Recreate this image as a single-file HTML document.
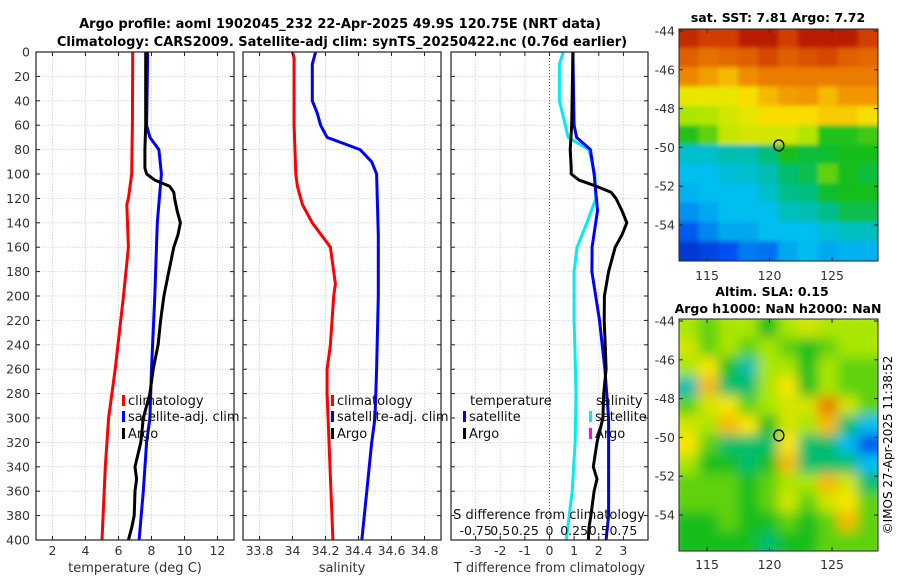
<!DOCTYPE html>
<html><head><meta charset="utf-8"><style>
body{margin:0;background:#fff}
svg{display:block;font-family:"DejaVu Sans","Liberation Sans",sans-serif}
</style></head><body>
<svg id="fig" width="900" height="580" viewBox="0 0 900 580" xmlns="http://www.w3.org/2000/svg">
<defs>
<clipPath id="c1"><rect x="679" y="29" width="199" height="232"/></clipPath>
<clipPath id="c2"><rect x="679" y="319" width="199" height="232"/></clipPath>
<filter id="b1" x="-5%" y="-5%" width="110%" height="110%"><feGaussianBlur stdDeviation="2"/></filter>
<filter id="b2" x="-10%" y="-10%" width="120%" height="120%"><feGaussianBlur stdDeviation="6"/></filter>
</defs>
<text x="340" y="28" text-anchor="middle" font-size="13" font-weight="bold">Argo profile: aoml 1902045_232 22-Apr-2025 49.9S 120.75E (NRT data)</text>
<text x="342" y="46" text-anchor="middle" font-size="13" font-weight="bold">Climatology: CARS2009. Satellite-adj clim: synTS_20250422.nc (0.76d earlier)</text>
<text x="778" y="22" text-anchor="middle" font-size="12.5" font-weight="bold">sat. SST: 7.81 Argo: 7.72</text>
<text x="772" y="296" text-anchor="middle" font-size="12.5" font-weight="bold">Altim. SLA: 0.15</text>
<text x="778" y="313" text-anchor="middle" font-size="12.5" font-weight="bold">Argo h1000: NaN h2000: NaN</text>
<text transform="translate(892,445) rotate(-90)" text-anchor="middle" font-size="12">©IMOS 27-Apr-2025 11:38:52</text>
<g id="g"></g>
</svg>
<script>
// ---- data ----
const tDepth   = [0,60,70,80,100,120,125,160,200,260,300,340,400];
const tClim    = [6.86,6.84,6.83,6.82,6.8,6.6,6.5,6.6,6.3,5.8,5.4,5.2,5.0];
const satDepth = [0,60,70,80,100,140,200,260,300,320,360,400];
const tSat     = [7.77,7.7,7.9,8.45,8.6,8.35,8.2,8.0,7.9,7.7,7.5,7.25];
const argoDepth= [0,60,80,95,100,105,110,115,120,130,140,150,160,180,200,220,240,260,280,300,320,340,350,360,380,390,400];
const tArgo    = [7.65,7.65,7.6,7.6,7.7,8.2,9.1,9.35,9.4,9.55,9.75,9.6,9.35,9.05,8.75,8.55,8.4,8.1,7.9,7.5,7.35,7.0,7.1,7.0,6.95,6.8,6.6];
const sClimDepth=[0,5,60,100,110,125,140,160,190,200,240,260,280,400];
const sClim    = [34.0,34.01,34.01,34.02,34.03,34.06,34.12,34.23,34.26,34.25,34.23,34.21,34.21,34.245];
const sSatDepth= [0,10,40,50,60,70,80,90,100,150,200,260,300,320,360,400];
const sSat     = [34.14,34.12,34.12,34.15,34.17,34.21,34.41,34.48,34.51,34.52,34.52,34.51,34.5,34.48,34.45,34.42];
const dDepthSat= [0,60,70,80,100,130,160,180,220,260,300,380,400];
const dTSat    = [0.95,1.0,1.1,1.66,1.81,1.95,1.73,1.72,2.03,2.25,2.4,2.4,2.3];
const dTArgo   = [0.95,0.9,0.84,0.88,0.88,1.2,1.9,2.5,2.7,2.94,3.14,2.94,2.67,2.4,2.23,2.22,2.26,2.3,2.2,2.17,1.93,1.78,1.93,1.81,1.68,1.6,1.58];
const dSDepth  = [0,10,40,60,70,80,100,120,140,160,180,220,280,320,360,400];
const dSSat    = [0.14,0.1,0.1,0.16,0.19,0.4,0.46,0.47,0.38,0.28,0.25,0.25,0.27,0.26,0.23,0.17];
const depthTicks=[0,20,40,60,80,100,120,140,160,180,200,220,240,260,280,300,320,340,360,380,400];
const tTicks=[2,4,6,8,10,12];
const sTicks=[33.8,34,34.2,34.4,34.6,34.8];
const dTTicks=[-3,-2,-1,0,1,2,3];
const dSTicks=[-0.75,-0.5,-0.25,0,0.25,0.5,0.75];
const dSTickLabels=["-0.75","0.5","0.25","0","0.25","0.5","0.75"];
const lonTicks=[115,120,125];
const latTicks=[-44,-46,-48,-50,-52,-54];
const sstGrid=[
[9.3,9,9,9.5,9.5,9,9.5,9.5,9.5,9],
[8.3,8,8.2,8.3,8.8,8.3,8.6,8.8,8.3,8.2],
[7.6,7.3,7,7.5,7.8,7.8,7.8,7.8,7.8,7.8],
[6.3,6.3,6.3,6.6,7,7.3,7.4,7,7.4,7.4],
[5.5,5.6,6,6.2,6.6,6.6,6.6,6.8,6.8,6.6],
[4.6,5,5.8,6,6,6,5.6,4.6,4.6,4.8],
[3.3,3.3,3.5,3.5,3.9,4.5,4.3,4.4,4.5,4.5],
[3,3,3.2,3.3,3.5,4,4.2,5,4.5,4.3],
[2.9,3,3,3,3.3,3.8,3.9,4.4,4.5,4.5],
[2.6,2.8,3,3,3,3.4,3.5,3.8,4.2,4.2],
[2.1,2.5,2.8,2.8,3,3,3,3.2,3.4,3.4],
[1.4,1.7,2,2.4,2.3,2.8,3,2.8,2.9,2.9]];
const slaGrid=[
[5.5,5,5.5,5.5,4.5,5.5,6,5.5,5.5,5.5],
[6,5,5.5,5,5.5,5,4.5,5,5.5,5.5],
[5.5,6.5,4.5,3.5,5.5,5.5,4.5,5.5,5,5],
[3.5,7,4,4,5.5,6.5,4.5,5.5,5,5],
[5,6,6.5,5,5.5,6,6,7.8,6,5],
[6,5.5,7,6.5,4.5,6,5.5,7,4,3],
[6.5,5,4,4,4,6.5,4,4,3,2],
[5.5,4.5,4.5,4,4.5,7,4,4,4,3],
[5,5,5,4.5,5,5.5,5.5,7,6,4],
[5,5,5,4.5,5,6,5,6,6.5,5],
[4.5,4.5,5,4.5,4.5,5,4.5,5,7,5],
[4.5,4.5,4.5,4.5,4,4.5,4.5,5,5,5]];
const argoLon=120.75, argoLat=-49.9;

// ---- drawing ----
const NS="http://www.w3.org/2000/svg";
const G=document.getElementById('g');
function el(tag,attrs,parent){const e=document.createElementNS(NS,tag);for(const k in attrs)e.setAttribute(k,attrs[k]);(parent||G).appendChild(e);return e;}
const Y0=52,Y1=540;
const yD=d=>Y0+d/400*(Y1-Y0);

function panel(name,x0,x1,xmin,xmax){
  const sx=v=>x0+(v-xmin)/(xmax-xmin)*(x1-x0);
  const g=el('g',{});
  
  
  return {x0,x1,sx,g};
}
function grid(p,xt,showY){
  xt.forEach(v=>{const l=el('line',{x1:p.sx(v),x2:p.sx(v),y1:Y0,y2:Y1,stroke:'#c8cfe6','stroke-width':0.8,'stroke-dasharray':'1.5 1.5'},p.g);
    });
  depthTicks.forEach(d=>{const l=el('line',{x1:p.x0,x2:p.x1,y1:yD(d),y2:yD(d),stroke:'#c8cfe6','stroke-width':0.8,'stroke-dasharray':'1.5 1.5'},p.g);
    
    el('line',{x1:p.x0,x2:p.x0+4,y1:yD(d),y2:yD(d),stroke:'#222'},p.g);
    el('line',{x1:p.x1-4,x2:p.x1,y1:yD(d),y2:yD(d),stroke:'#222'},p.g);
    if(showY){const t=el('text',{x:p.x0-6,y:yD(d)+4.5,'text-anchor':'end','font-size':12.5,fill:'#333'},p.g);t.textContent=d;
      }
  });
}
function frame(p,xt,lbl){
  xt.forEach((v,i)=>{el('line',{x1:p.sx(v),x2:p.sx(v),y1:Y1,y2:Y1-4,stroke:'#222'},p.g);el('line',{x1:p.sx(v),x2:p.sx(v),y1:Y0,y2:Y0+4,stroke:'#222'},p.g);
    const t=el('text',{x:p.sx(v),y:555,'text-anchor':'middle','font-size':12.5,fill:'#333'},p.g);t.textContent=v;
    });
  const r=el('rect',{x:p.x0,y:Y0,width:p.x1-p.x0,height:Y1-Y0,fill:'none',stroke:'#222','stroke-width':1.2},p.g);
  
  const t=el('text',{x:(p.x0+p.x1)/2,y:572,'text-anchor':'middle','font-size':13,fill:'#333'},p.g);t.textContent=lbl;
  
}
function line(p,xs,ds,col,name,sx){
  const f=sx||p.sx;
  const pts=xs.map((v,i)=>f(v).toFixed(1)+','+yD(ds[i]).toFixed(1)).join(' ');
  const l=el('polyline',{points:pts,fill:'none',stroke:col,'stroke-width':3,'stroke-linejoin':'round'},p.g);
  
}
function legendEntry(p,x,y,col,txt,name){
  const g=el('g',{},p.g);
  
  if(col)el('rect',{x:x,y:y-10,width:3,height:11,fill:col},g);
  const t=el('text',{x:x+6,y:y,'font-size':13,fill:'#111'},g);t.textContent=txt;
}

// Panel 1 temperature
const p1=panel('temperature-panel',36,234,1,13);
grid(p1,tTicks,true);
line(p1,tClim,tDepth,'#f00','climatology-temp-line');
line(p1,tSat,satDepth,'#00f','satellite-temp-line');
line(p1,tArgo,argoDepth,'#000','argo-temp-line');
frame(p1,tTicks,'temperature (deg C)');
legendEntry(p1,122,405,'#f00','climatology','legend-climatology');
legendEntry(p1,122,421,'#00f','satellite-adj. clim','legend-satellite');
legendEntry(p1,122,438,'#000','Argo','legend-argo');

// Panel 2 salinity
const p2=panel('salinity-panel',243,441,33.7,34.9);
grid(p2,sTicks,false);
line(p2,sClim,sClimDepth,'#f00','climatology-salinity-line');
line(p2,sSat,sSatDepth,'#00f','satellite-salinity-line');
frame(p2,sTicks,'salinity');
legendEntry(p2,331,405,'#f00','climatology','legend-climatology-s');
legendEntry(p2,331,421,'#00f','satellite-adj. clim','legend-satellite-s');
legendEntry(p2,331,438,'#000','Argo','legend-argo-s');

// Panel 3 differences
const p3=panel('difference-panel',451,648,-4,4);
grid(p3,dTTicks,false);
const sxS=v=>p3.sx(v*4);
const z=el('line',{x1:p3.sx(0),x2:p3.sx(0),y1:Y0,y2:Y1,stroke:'#556b2f','stroke-width':1,'stroke-dasharray':'1 2'},p3.g);

line(p3,dSSat,dSDepth,'#00eeee','salinity-diff-satellite-line',sxS);
line(p3,dTSat,dDepthSat,'#00f','temp-diff-satellite-line');
line(p3,dTArgo,argoDepth,'#000','temp-diff-argo-line');
frame(p3,dTTicks,'T difference from climatology');
{const t=el('text',{x:549,y:519,'text-anchor':'middle','font-size':13,fill:'#111'},p3.g);t.textContent='S difference from climatology';
 }
dSTicks.forEach((v,i)=>{const t=el('text',{x:sxS(v),y:535,'text-anchor':'middle','font-size':12.5,fill:'#111'},p3.g);t.textContent=dSTickLabels[i];
 });
{const t=el('text',{x:470,y:405,'font-size':13,fill:'#111'},p3.g);t.textContent='temperature';}
{const t=el('text',{x:596,y:405,'font-size':13,fill:'#111'},p3.g);t.textContent='salinity';}
legendEntry(p3,463,421,'#00f','satellite','legend-temp-satellite');
legendEntry(p3,463,438,'#000','Argo','legend-temp-argo');
legendEntry(p3,589,421,'#00eeee','satellite','legend-sal-satellite');
legendEntry(p3,589,438,'#ff00ff','Argo','legend-sal-argo');

// Maps - custom colormap resembling the reference
const cmapStops=[[0,[0,0,140]],[2,[0,80,240]],[3,[0,190,240]],[3.8,[0,190,140]],[4.5,[20,190,30]],[5.5,[170,230,0]],[6.5,[250,230,0]],[7.5,[240,140,0]],[9,[210,60,0]],[10,[160,0,0]]];
function cmap(v){
  v=Math.max(0,Math.min(10,v));
  for(let i=1;i<cmapStops.length;i++){const [a,ca]=cmapStops[i-1],[b,cb]=cmapStops[i];
    if(v<=b){const t=(v-a)/(b-a);return `rgb(${ca.map((c,k)=>Math.round(c+(cb[k]-c)*t)).join(',')})`;}}
  return 'rgb(160,0,0)';
}
function map(name,grid2,top,clip,filt,lonY){
  const X0=679,X1=878,Yt=top,Yb=top+232;
  const lon=v=>707+(v-115)*12.5;
  const lat=v=>Yt+2+(-44-v)*19.4;
  const g=el('g',{});
  const cg=el('g',{'clip-path':`url(#${clip})`},g);
  const fg=el('g',{filter:`url(#${filt})`},cg);
  const nr=grid2.length,nc=grid2[0].length,cw=(X1-X0)/nc,ch=(Yb-Yt)/nr;
  grid2.forEach((row,i)=>row.forEach((v,j)=>{
    const c=el('rect',{x:X0+j*cw-(j==0?8:0.5),y:Yt+i*ch-(i==0?8:0.5),width:cw+1+(j==0||j==nc-1?8:0),height:ch+1+(i==0||i==nr-1?8:0),fill:cmap(v)},fg);
    
  }));
  el('rect',{x:X0,y:Yt,width:X1-X0,height:Yb-Yt,fill:'none',stroke:'#222'},g);
  latTicks.forEach(v=>{el('line',{x1:X0,x2:X0+4,y1:lat(v),y2:lat(v),stroke:'#222'},g);el('line',{x1:X1-4,x2:X1,y1:lat(v),y2:lat(v),stroke:'#222'},g);
    const t=el('text',{x:675,y:lat(v)+4.5,'text-anchor':'end','font-size':12.5,fill:'#333'},g);t.textContent=v;
    });
  lonTicks.forEach(v=>{el('line',{x1:lon(v),x2:lon(v),y1:Yb,y2:Yb-4,stroke:'#222'},g);el('line',{x1:lon(v),x2:lon(v),y1:Yt,y2:Yt+4,stroke:'#222'},g);
    const t=el('text',{x:lon(v),y:lonY,'text-anchor':'middle','font-size':12.5,fill:'#333'},g);t.textContent=v;
    });
  const m=el('ellipse',{cx:lon(argoLon),cy:lat(argoLat),rx:5,ry:5.5,fill:'none',stroke:'#000','stroke-width':1.3},g);
  
}
map('sst-map',sstGrid,29,'c1','b1',280);
map('sla-map',slaGrid,319,'c2','b2',569);
</script>
</body></html>
